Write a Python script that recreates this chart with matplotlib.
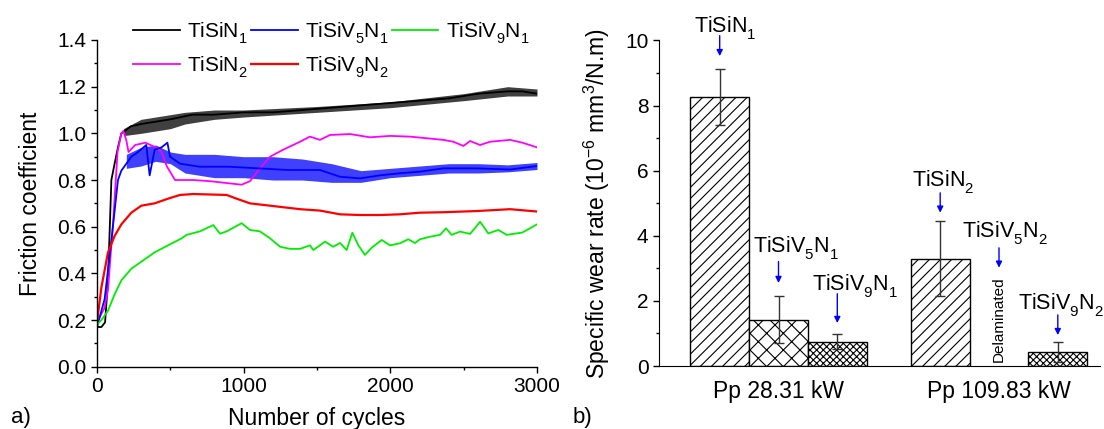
import numpy as np
import matplotlib
matplotlib.use("Agg")
import matplotlib.pyplot as plt
from matplotlib.ticker import MultipleLocator, FormatStrFormatter

plt.rcParams.update({
    "font.family": ["Liberation Sans", "DejaVu Sans"],
    "mathtext.fontset": "custom",
    "mathtext.rm": "Liberation Sans",
    "mathtext.it": "Liberation Sans:italic",
    "mathtext.bf": "Liberation Sans:bold",
    "hatch.linewidth": 0.8,
})
# lower the subscripts a bit, like the reference typesetting
try:
    import matplotlib._mathtext as _mt
    _mt.FontConstantsBase.sub1 = 0.6
    _mt.FontConstantsBase.sub2 = 0.7
except Exception:
    pass

# ---------------- (a) friction coefficient data ----------------
cyc_tisin1 = [0, 30, 55, 75, 98, 120, 143, 166, 190, 230, 300, 400, 500, 650, 800, 1000,
              1200, 1400, 1600, 1800, 2000, 2200, 2400, 2600, 2800, 2900, 3000]
mu_tisin1 = [0.17, 0.17, 0.19, 0.37, 0.80, 0.87, 0.94, 1.00, 1.01, 1.03, 1.04, 1.05, 1.06, 1.08,
             1.08, 1.09, 1.09, 1.10, 1.11, 1.12, 1.13, 1.14, 1.15, 1.17, 1.18, 1.18, 1.17]
env_cyc_tisin1 = [180, 300, 400, 500, 600, 800, 1000, 1500, 2000, 2500, 2800, 3000]
env_lo_tisin1 = [0.99, 1.00, 1.01, 1.02, 1.04, 1.06, 1.07, 1.09, 1.11, 1.14, 1.16, 1.16]
env_hi_tisin1 = [1.02, 1.06, 1.07, 1.08, 1.09, 1.10, 1.10, 1.115, 1.135, 1.17, 1.20, 1.19]

cyc_tisin2 = [0, 50, 75, 110, 140, 166, 180, 200, 215, 260, 330, 400, 440, 475, 532, 657, 770,
              884, 986, 1043, 1111, 1180, 1270, 1384, 1452, 1520, 1589, 1725, 1861, 1998, 2134,
              2362, 2430, 2498, 2544, 2612, 2680, 2816, 2900, 3000]
mu_tisin2 = [0.19, 0.25, 0.33, 0.62, 0.92, 1.00, 1.01, 0.97, 0.92, 0.95, 0.96, 0.94, 0.92, 0.86,
             0.80, 0.80, 0.795, 0.787, 0.78, 0.795, 0.85, 0.90, 0.93, 0.964, 0.986, 0.972, 0.993,
             0.997, 0.983, 0.989, 0.986, 0.972, 0.964, 0.946, 0.967, 0.95, 0.964, 0.972, 0.96, 0.94]

cyc_v5n1 = [0, 52, 98, 143, 166, 234, 280, 336, 359, 393, 440, 480, 498, 566, 700, 900, 1100,
            1300, 1520, 1657, 1793, 1930, 2066, 2202, 2362, 2589, 2816, 3000]
mu_v5n1 = [0.17, 0.29, 0.54, 0.80, 0.84, 0.90, 0.92, 0.95, 0.82, 0.93, 0.94, 0.96, 0.90, 0.87,
           0.857, 0.857, 0.85, 0.843, 0.843, 0.814, 0.807, 0.82, 0.829, 0.836, 0.85, 0.85, 0.845, 0.86]
env_cyc_v5n1 = [200, 300, 400, 500, 600, 800, 1000, 1200, 1400, 1600, 1800, 2000, 2200, 2400,
                2600, 2800, 3000]
env_lo_v5n1 = [0.85, 0.86, 0.88, 0.87, 0.83, 0.81, 0.81, 0.80, 0.80, 0.79, 0.79, 0.81, 0.82,
               0.83, 0.83, 0.835, 0.845]
env_hi_v5n1 = [0.91, 0.94, 0.95, 0.92, 0.91, 0.91, 0.90, 0.90, 0.89, 0.87, 0.84, 0.85, 0.86,
               0.87, 0.87, 0.865, 0.875]

cyc_v9n2 = [0, 30, 75, 120, 166, 234, 302, 393, 484, 566, 657, 884, 952, 1043, 1180, 1384, 1520,
            1657, 1793, 1930, 2066, 2202, 2362, 2589, 2816, 3000]
mu_v9n2 = [0.19, 0.34, 0.49, 0.56, 0.61, 0.66, 0.69, 0.70, 0.72, 0.736, 0.74, 0.736, 0.72, 0.70,
           0.69, 0.675, 0.669, 0.653, 0.65, 0.65, 0.653, 0.66, 0.662, 0.667, 0.675, 0.665]

cyc_v9n1 = [0, 30, 75, 120, 166, 234, 302, 393, 484, 577, 611, 702, 793, 839, 884, 986, 1043,
            1111, 1180, 1248, 1316, 1384, 1452, 1475, 1555, 1610, 1657, 1702, 1741, 1782, 1827,
            1873, 1941, 1998, 2066, 2122, 2168, 2202, 2271, 2339, 2380, 2418, 2475, 2544, 2612,
            2668, 2736, 2794, 2900, 3000]
mu_v9n1 = [0.18, 0.20, 0.24, 0.31, 0.37, 0.42, 0.45, 0.49, 0.52, 0.55, 0.565, 0.58, 0.607, 0.57,
           0.58, 0.615, 0.586, 0.58, 0.55, 0.514, 0.505, 0.505, 0.52, 0.50, 0.536, 0.514, 0.53,
           0.50, 0.574, 0.52, 0.479, 0.51, 0.543, 0.52, 0.529, 0.546, 0.53, 0.546, 0.557, 0.565,
           0.593, 0.565, 0.579, 0.569, 0.621, 0.571, 0.586, 0.565, 0.575, 0.61]

# ---------------- (b) specific wear rate data ----------------
wear_labels = [r"TiSiN$_1$", r"TiSiV$_5$N$_1$", r"TiSiV$_9$N$_1$",
               r"TiSiN$_2$", r"TiSiV$_5$N$_2$", r"TiSiV$_9$N$_2$"]
wear_values = [8.27, 1.42, 0.75, 3.30, np.nan, 0.44]
wear_errors = [0.86, 0.72, 0.23, 1.15, np.nan, 0.31]
wear_hatches = ["///", "xx", "xxxxx", "///", "", "xxxxx"]
group_labels = ["Pp 28.31 kW", "Pp 109.83 kW"]

# layout: bar positions and annotation placement (text x, text baseline, arrow start, arrow tip)
bar_pos = [0, 1, 2, 3.75, 4.75, 5.75]
ann_layout = [(-0.44, 10.24, 10.15, 9.52),
              (0.566, 3.48, 3.21, 2.55),
              (1.57, 2.30, 2.22, 1.32),
              (3.265, 5.52, 5.32, 4.71),
              (4.116, 3.94, 3.63, 3.02),
              (5.07, 1.72, 1.57, 0.95)]

W, H = 1104, 429
fig = plt.figure(figsize=(W / 100, H / 100), dpi=100)

def frac(x0, y0, x1, y1):
    return [x0 / W, 1 - y1 / H, (x1 - x0) / W, (y1 - y0) / H]

# ================= panel a =================
ax1 = fig.add_axes(frac(97, 40, 537, 366.7))
lw = 1.3
ax1.fill_between(env_cyc_tisin1, env_lo_tisin1, env_hi_tisin1, color="black", lw=0, alpha=0.75)
ax1.fill_between(env_cyc_v5n1, env_lo_v5n1, env_hi_v5n1, color="blue", lw=0, alpha=0.75)
l1, = ax1.plot(cyc_tisin1, mu_tisin1, color="black", lw=lw, label=r"TiSiN$_1$")
l4, = ax1.plot(cyc_tisin2, mu_tisin2, color="magenta", lw=lw, label=r"TiSiN$_2$")
l2, = ax1.plot(cyc_v5n1, mu_v5n1, color="blue", lw=lw, label=r"TiSiV$_5$N$_1$")
l5, = ax1.plot(cyc_v9n2, mu_v9n2, color="red", lw=lw + 0.3, label=r"TiSiV$_9$N$_2$")
l3, = ax1.plot(cyc_v9n1, mu_v9n1, color="#00ee00", lw=lw, label=r"TiSiV$_9$N$_1$")

ax1.set_xlim(0, 3000)
ax1.set_ylim(0, 1.4)
ax1.xaxis.set_major_locator(MultipleLocator(1000))
ax1.xaxis.set_minor_locator(MultipleLocator(500))
ax1.yaxis.set_major_locator(MultipleLocator(0.2))
ax1.yaxis.set_minor_locator(MultipleLocator(0.1))
ax1.yaxis.set_major_formatter(FormatStrFormatter("%.1f"))
for s in ["top", "right"]:
    ax1.spines[s].set_visible(False)
for s in ["left", "bottom"]:
    ax1.spines[s].set_linewidth(1.0)
ax1.tick_params(which="major", direction="out", length=4.5, width=1, labelsize=15, pad=3)
ax1.tick_params(which="minor", direction="out", length=2.5, width=1)
ax1.set_xlabel("Number of cycles", fontsize=16.5, va="center")
ax1.xaxis.set_label_coords(0.5, -0.158)
ax1.set_ylabel("Friction coefficient", fontsize=16.5, va="center")
ax1.yaxis.set_label_coords(-0.152, 0.5)

ax1.legend([l1, l4, l2, l5, l3],
           [r"TiSiN$_1$", r"TiSiN$_2$", r"TiSiV$_5$N$_1$", r"TiSiV$_9$N$_2$", r"TiSiV$_9$N$_1$"],
           ncol=3, loc="upper left", bbox_to_anchor=(133 / W, 1 - 20 / H),
           bbox_transform=fig.transFigure, frameon=False, fontsize=15,
           handlelength=2.25, handletextpad=0.35, columnspacing=0.15,
           labelspacing=0.42, borderpad=0, borderaxespad=0)

# ================= panel b =================
ax2 = fig.add_axes(frac(659, 40.5, 1100, 366))
xlo = (659 - 719.7) / 58.8
xhi = (1100 - 719.7) / 58.8
for p, v, e, h in zip(bar_pos, wear_values, wear_errors, wear_hatches):
    if np.isnan(v):
        continue
    ax2.bar(p, v, width=1.0, color="white", edgecolor="black", linewidth=1.0, hatch=h, zorder=2)
    ax2.errorbar(p, v, yerr=e, fmt="none", ecolor="#333333", elinewidth=1.0, capsize=3.5,
                 capthick=1.0, zorder=3)

for lab, (tx, ty, a0, a1), p in zip(wear_labels, ann_layout, bar_pos):
    ax2.text(tx, ty, lab, fontsize=15.5, ha="left", va="baseline", clip_on=False)
    ax2.annotate("", xy=(p, a1), xytext=(p, a0), annotation_clip=False,
                 arrowprops=dict(arrowstyle="-|>", color="blue", lw=1.0,
                                 mutation_scale=9, shrinkA=0, shrinkB=0))
ax2.text(bar_pos[4], 1.45, "Delaminated", rotation=90, fontsize=11, ha="center", va="center")

ax2.set_xlim(xlo, xhi)
ax2.set_ylim(0, 10)
ax2.set_xticks([bar_pos[1], bar_pos[4]])
ax2.set_xticklabels(group_labels, fontsize=16.5)
ax2.yaxis.set_major_locator(MultipleLocator(2))
ax2.yaxis.set_minor_locator(MultipleLocator(1))
for s in ["top", "right"]:
    ax2.spines[s].set_visible(False)
ax2.tick_params(axis="x", which="both", length=0, pad=10)
ax2.tick_params(axis="y", which="major", direction="out", length=4.5, width=1, labelsize=15, pad=3)
ax2.tick_params(axis="y", which="minor", direction="out", length=2.5, width=1)
ax2.set_ylabel(r"Specific wear rate (10$^{-6}$ mm$^3$/N.m)", fontsize=16.5, va="center")
ax2.yaxis.set_label_coords(-0.14, 0.5)

fig.text(11 / W, 1 - 417 / H, "a)", fontsize=16, ha="left", va="center")
fig.text(573 / W, 1 - 418 / H, "b)", fontsize=16, ha="left", va="center")

fig.savefig("out.png", dpi=100)
